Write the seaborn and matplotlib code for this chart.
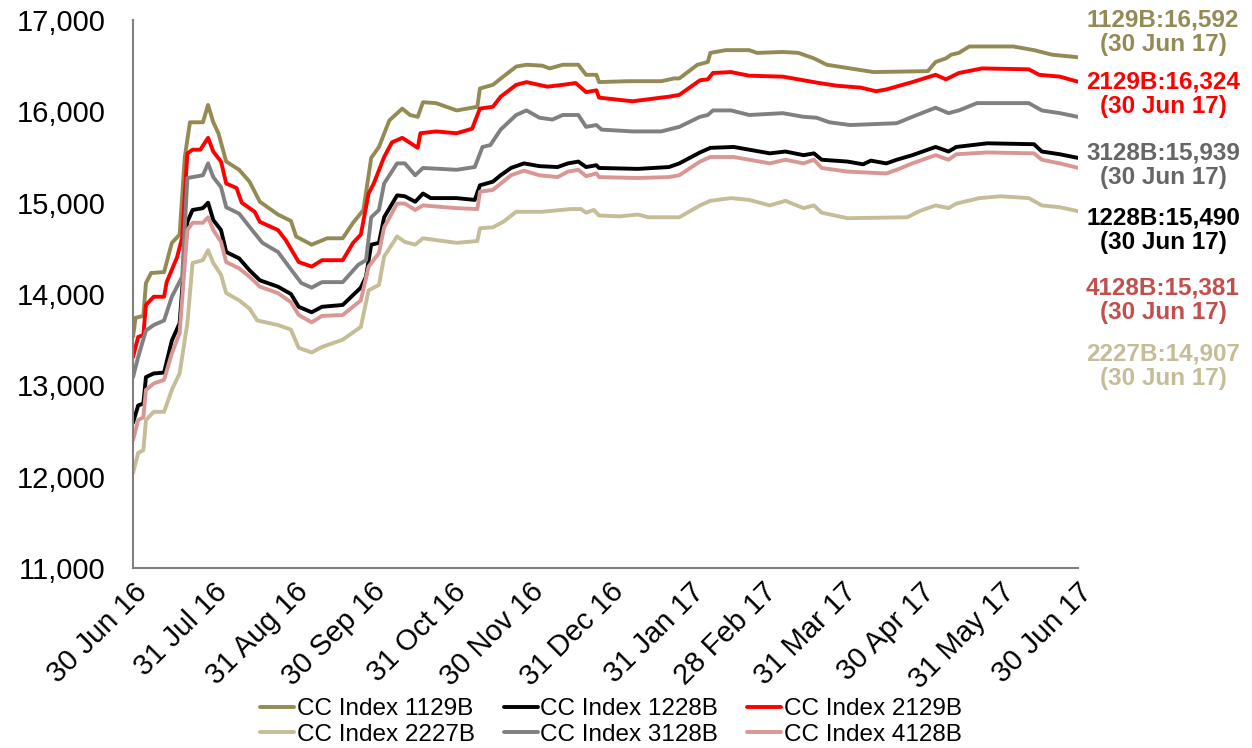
import pandas as pd
import matplotlib.pyplot as plt
import matplotlib.dates as mdates
from matplotlib.ticker import FuncFormatter, MultipleLocator
import seaborn as sns

# --- data: day offsets from 30 Jun 2016 and index levels ---
start_date = pd.Timestamp('2016-06-30')

d_1129 = [0, 1, 4, 5, 7, 12, 15, 18, 20, 22, 27, 29, 31, 33, 36, 41, 45, 49, 56, 61, 63, 69, 75, 81,
          85, 89, 92, 95, 99, 104, 107, 110, 112, 117, 125, 133, 134, 139, 143, 148, 152, 158, 161,
          166, 172, 175, 179, 180, 191, 204, 209, 211, 218, 222, 223, 229, 238, 241, 251, 257, 263,
          268, 277, 286, 307, 310, 314, 316, 319, 323, 340, 348, 355, 365]
v_1129 = [13530, 13740, 13760, 14120, 14230, 14240, 14560, 14650, 15500, 15880, 15880, 16070, 15880,
          15760, 15450, 15360, 15230, 15010, 14870, 14800, 14630, 14540, 14610, 14610, 14780, 14920,
          15490, 15610, 15900, 16030, 15960, 15940, 16100, 16090, 16010, 16050, 16250, 16290, 16380,
          16490, 16510, 16500, 16470, 16510, 16510, 16400, 16400, 16320, 16330, 16330, 16360, 16360,
          16510, 16540, 16640, 16670, 16670, 16640, 16650, 16640, 16580, 16510, 16470, 16430, 16440,
          16540, 16580, 16620, 16640, 16710, 16710, 16670, 16620, 16592]

d_2129 = [0, 2, 4, 5, 8, 12, 13, 17, 19, 21, 23, 26, 29, 31, 34, 36, 40, 42, 47, 49, 56, 59, 64, 69,
          73, 81, 85, 88, 91, 93, 97, 100, 104, 110, 111, 117, 125, 131, 134, 139, 142, 148, 152,
          160, 166, 171, 175, 179, 180, 193, 204, 207, 211, 219, 222, 224, 231, 238, 251, 259, 265,
          272, 281, 287, 291, 301, 310, 314, 319, 328, 346, 350, 358, 365]
v_2129 = [13310, 13530, 13550, 13880, 13970, 13970, 14130, 14400, 14620, 15540, 15580, 15580, 15710,
          15560, 15450, 15210, 15160, 15000, 14900, 14790, 14700, 14590, 14350, 14300, 14370, 14370,
          14560, 14650, 15100, 15210, 15500, 15660, 15710, 15600, 15760, 15780, 15760, 15810, 16030,
          16050, 16160, 16290, 16320, 16270, 16290, 16310, 16210, 16230, 16150, 16110, 16150, 16160,
          16180, 16340, 16350, 16420, 16430, 16390, 16380, 16340, 16310, 16280, 16260, 16220, 16240,
          16320, 16400, 16350, 16420, 16470, 16460, 16400, 16380, 16324]

d_3128 = [0, 2, 5, 8, 12, 15, 19, 21, 27, 29, 31, 34, 36, 41, 46, 50, 56, 61, 65, 69, 73, 81, 87, 90,
          92, 95, 97, 102, 105, 109, 112, 125, 132, 135, 138, 142, 148, 152, 157, 162, 166, 172, 175,
          179, 181, 193, 204, 211, 219, 222, 224, 231, 238, 251, 259, 264, 269, 277, 295, 301, 310,
          315, 319, 326, 346, 351, 358, 365]
v_3128 = [13090, 13310, 13600, 13660, 13710, 13970, 14190, 15270, 15300, 15430, 15280, 15170, 14950,
          14880, 14700, 14560, 14460, 14270, 14120, 14070, 14130, 14130, 14320, 14370, 14840, 14920,
          15210, 15430, 15430, 15300, 15380, 15360, 15390, 15610, 15630, 15800, 15960, 16010, 15930,
          15910, 15960, 15960, 15830, 15850, 15800, 15780, 15780, 15830, 15940, 15960, 16010, 16010,
          15960, 15980, 15940, 15930, 15880, 15850, 15870, 15940, 16040, 15980, 16010, 16090, 16090,
          16010, 15980, 15939]

d_1228 = [0, 2, 4, 5, 8, 12, 15, 18, 21, 23, 27, 29, 31, 34, 36, 41, 45, 49, 56, 61, 64, 69, 73, 81,
          88, 90, 92, 95, 97, 102, 105, 109, 112, 115, 125, 132, 134, 139, 142, 146, 151, 157, 164,
          168, 172, 175, 179, 180, 195, 207, 211, 219, 223, 232, 238, 246, 252, 259, 263, 266, 276,
          282, 285, 291, 295, 301, 310, 315, 318, 330, 348, 351, 358, 365]
v_1228 = [12590, 12780, 12800, 13090, 13130, 13140, 13490, 13680, 14790, 14920, 14940, 15000, 14810,
          14700, 14460, 14390, 14260, 14150, 14080, 14000, 13860, 13800, 13860, 13880, 14070, 14190,
          14540, 14560, 14840, 15080, 15070, 15010, 15100, 15050, 15050, 15030, 15190, 15230, 15300,
          15380, 15430, 15400, 15390, 15430, 15450, 15390, 15410, 15380, 15370, 15390, 15430, 15550,
          15600, 15610, 15580, 15540, 15560, 15520, 15540, 15470, 15450, 15420, 15460, 15430, 15470,
          15520, 15610, 15560, 15610, 15650, 15640, 15560, 15530, 15490]

d_4128 = [0, 2, 4, 5, 8, 12, 15, 18, 21, 23, 27, 29, 31, 34, 36, 41, 45, 49, 56, 61, 64, 69, 73, 81,
          88, 91, 95, 97, 102, 105, 109, 112, 125, 133, 134, 139, 146, 151, 157, 164, 168, 172, 175,
          179, 180, 195, 207, 211, 219, 223, 232, 238, 246, 252, 259, 263, 266, 276, 291, 295, 301,
          310, 315, 318, 330, 348, 351, 358, 365]
v_4128 = [12400, 12620, 12650, 12950, 13020, 13060, 13350, 13570, 14700, 14780, 14780, 14840, 14700,
          14570, 14350, 14280, 14190, 14080, 14010, 13910, 13770, 13690, 13760, 13770, 13930, 14300,
          14450, 14730, 14990, 14990, 14920, 14970, 14940, 14930, 15120, 15140, 15300, 15350, 15300,
          15280, 15340, 15360, 15290, 15320, 15280, 15270, 15280, 15300, 15450, 15500, 15500, 15470,
          15430, 15470, 15430, 15470, 15380, 15340, 15320, 15360, 15430, 15520, 15470, 15530, 15550,
          15540, 15470, 15430, 15381]

d_2227 = [0, 2, 4, 5, 8, 12, 15, 18, 21, 23, 27, 29, 31, 34, 36, 41, 45, 48, 56, 61, 64, 69, 73, 81,
          88, 91, 95, 97, 102, 105, 109, 112, 125, 133, 134, 139, 143, 148, 158, 169, 173, 175, 178,
          180, 188, 195, 199, 211, 219, 223, 231, 238, 246, 252, 259, 263, 266, 276, 299, 304, 310,
          315, 318, 327, 335, 346, 351, 358, 365]
v_2227 = [12040, 12260, 12290, 12620, 12710, 12710, 12950, 13130, 13680, 14340, 14370, 14480, 14340,
          14210, 14010, 13930, 13840, 13710, 13660, 13610, 13410, 13360, 13420, 13500, 13640, 14040,
          14100, 14410, 14630, 14570, 14540, 14610, 14560, 14580, 14720, 14730, 14790, 14900, 14900,
          14930, 14930, 14890, 14920, 14860, 14850, 14870, 14840, 14840, 14970, 15020, 15050, 15030,
          14970, 15020, 14940, 14970, 14890, 14830, 14840, 14910, 14970, 14940, 14990, 15050, 15070,
          15050, 14970, 14950, 14907]

series_names = ['CC Index 1129B', 'CC Index 1228B', 'CC Index 2129B',
                'CC Index 2227B', 'CC Index 3128B', 'CC Index 4128B']
line_colors = ['#948A54', '#000000', '#FF0000', '#C4BD97', '#808080', '#D99694']

end_labels = ['1129B:16,592', '2129B:16,324', '3128B:15,939',
              '1228B:15,490', '4128B:15,381', '2227B:14,907']
end_label_colors = ['#948A54', '#FF0000', '#666666', '#000000', '#C0504D', '#C4BD97']
end_date_label = '(30 Jun 17)'

# --- build long-form table ---
frames = []
for name, d, v in zip(series_names,
                      [d_1129, d_1228, d_2129, d_2227, d_3128, d_4128],
                      [v_1129, v_1228, v_2129, v_2227, v_3128, v_4128]):
    frames.append(pd.DataFrame({
        'Date': start_date + pd.to_timedelta(d, unit='D'),
        'Value': v,
        'Series': name,
    }))
df = pd.concat(frames, ignore_index=True)

# --- plot ---
sns.set_style('white')
plt.rcParams['font.family'] = ['Liberation Sans', 'DejaVu Sans']
plt.rcParams['text.color'] = 'black'

fig = plt.figure(figsize=(12.52, 7.48), dpi=100)
ax = fig.add_axes([133 / 1252, 1 - 568 / 748, 945 / 1252, 548 / 748])

sns.lineplot(data=df, x='Date', y='Value', hue='Series', hue_order=series_names,
             palette=dict(zip(series_names, line_colors)), estimator=None,
             linewidth=2.8, ax=ax)

ax.set_xlim(pd.Timestamp('2016-06-30'), pd.Timestamp('2017-06-30'))
ax.set_ylim(11000, 17000)
ax.yaxis.set_major_locator(MultipleLocator(1000))
ax.yaxis.set_major_formatter(FuncFormatter(lambda x, p: f'{x:,.0f}'))

month_ends = pd.date_range('2016-06-30', '2017-06-30', freq='ME')
ax.set_xticks(month_ends)
ax.xaxis.set_major_formatter(mdates.DateFormatter('%d %b %y'))
plt.setp(ax.get_xticklabels(), rotation=45, ha='right', rotation_mode='anchor')

ax.tick_params(axis='both', direction='in', length=7, width=1.2, color='#808080',
               labelsize=21, labelcolor='black')
ax.tick_params(axis='y', pad=20)
ax.tick_params(axis='x', pad=7)
ax.set_xlabel('')
ax.set_ylabel('')
for side in ['top', 'right']:
    ax.spines[side].set_visible(False)
for side in ['left', 'bottom']:
    ax.spines[side].set_color('#808080')
    ax.spines[side].set_linewidth(1.5)

# legend: row-major order in 3 columns
handles, labels = ax.get_legend_handles_labels()
ax.get_legend().remove()
order = [0, 3, 1, 4, 2, 5]
fig.legend([handles[i] for i in order], [labels[i] for i in order],
           loc='center', bbox_to_anchor=(611 / 1252, 1 - 722 / 748), ncol=3,
           frameon=False, fontsize=17.5, handlelength=1.4, handletextpad=0.1,
           columnspacing=1.2, labelspacing=0.15, labelcolor='black')

# end-of-period labels on the right
label_centers_y = [32, 94, 165, 230, 300, 366]
for text, color, yc in zip(end_labels, end_label_colors, label_centers_y):
    fig.text(1163 / 1252, 1 - yc / 748, f'{text}\n{end_date_label}', color=color,
             fontsize=17.5, fontweight='bold', ha='center', va='center', linespacing=1.1)

fig.savefig('out.png', dpi=100)
